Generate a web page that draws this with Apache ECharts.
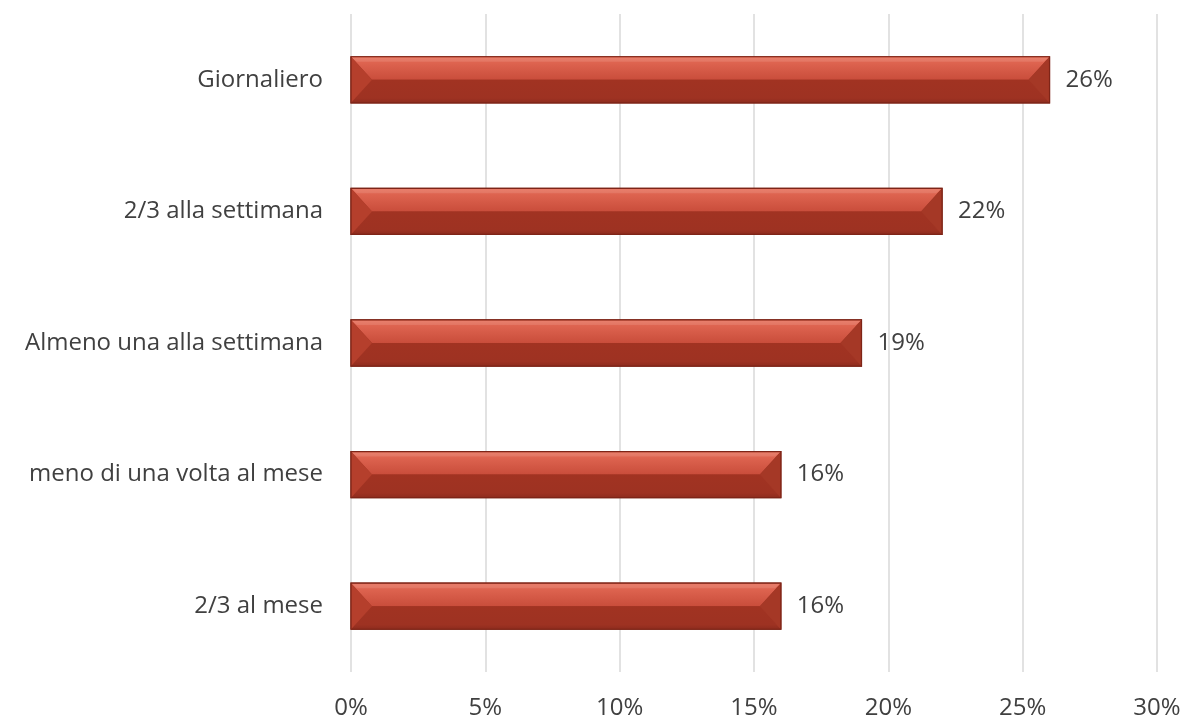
<!DOCTYPE html>
<html>
<head>
<meta charset="utf-8">
<script src="https://cdn.jsdelivr.net/npm/echarts@6/dist/echarts.min.js"></script>
<style>
  html, body { margin: 0; padding: 0; background: #fff; }
  #chart { width: 1187px; height: 720px; }
</style>
</head>
<body>
<div id="chart"></div>
<script>
// Frequency categories, top to bottom
const categories = [
  'Giornaliero',
  '2/3 alla settimana',
  'Almeno una alla settimana',
  'meno di una volta al mese',
  '2/3 al mese'
];
// Share of respondents (%)
const values = [26, 22, 19, 16, 16];
// Value-axis ticks (%)
const xTicks = [0, 5, 10, 15, 20, 25, 30];

const FONT = '"Open Sans", sans-serif';
const TEXT = '#404040';
const FS = 24;

// Draws one bevelled bar: lighter upper face, darker lower face, angled end caps
function renderBar(params, api) {
  const idx = api.value(0);
  const val = api.value(1);
  const p0 = api.coord([0, idx]);
  const p1 = api.coord([val, idx]);
  const band = api.size([0, 1])[1];
  const h = band * 0.35;
  const x0 = p0[0], x1 = p1[0];
  const yT = p0[1] - h / 2, yB = p0[1] + h / 2, yM = p0[1];
  const b = Math.min(h / 2 - 2, 21);
  const bt = 5;
  return {
    type: 'group',
    children: [
      { type: 'rect', shape: { x: x0, y: yT, width: x1 - x0, height: h },
        style: { fill: '#A23424', stroke: '#7E2417', lineWidth: 1.2 } },
      // upper face
      { type: 'polygon', shape: { points: [[x0, yT], [x1, yT], [x1 - b, yM], [x0 + b, yM]] },
        style: { fill: new echarts.graphic.LinearGradient(0, 0, 0, 1, [
          { offset: 0, color: '#E8735E' },
          { offset: 0.25, color: '#DE6450' },
          { offset: 1, color: '#C94D3B' }
        ]) } },
      // lower face
      { type: 'polygon', shape: { points: [[x0 + b, yM], [x1 - b, yM], [x1, yB], [x0, yB]] },
        style: { fill: new echarts.graphic.LinearGradient(0, 0, 0, 1, [
          { offset: 0, color: '#A13322' },
          { offset: 0.8, color: '#9E3222' },
          { offset: 1, color: '#8E2C1E' }
        ]) } },
      // left cap
      { type: 'polygon', shape: { points: [[x0, yT], [x0 + b, yM], [x0, yB]] },
        style: { fill: '#B53F2C' } },
      // right cap
      { type: 'polygon', shape: { points: [[x1, yT], [x1, yB], [x1 - b, yM]] },
        style: { fill: '#A53826' } },
      // top highlight strip
      { type: 'polygon', shape: { points: [[x0 + 1, yT + 1], [x1 - 1, yT + 1], [x1 - 1 - bt, yT + bt], [x0 + 1 + bt, yT + bt]] },
        style: { fill: 'rgba(255,255,255,0.10)' } },
      // outline
      { type: 'rect', shape: { x: x0, y: yT, width: x1 - x0, height: h },
        style: { fill: 'none', stroke: '#7E2417', lineWidth: 1.2 } },
      // value label
      { type: 'text', x: x1 + 16, y: yM,
        style: { text: val + '%', fill: TEXT, font: FS + 'px ' + FONT,
                 verticalAlign: 'middle', align: 'left' } }
    ]
  };
}

const chart = echarts.init(document.getElementById('chart'), null, { renderer: 'canvas' });
chart.setOption({
  animation: false,
  backgroundColor: '#ffffff',
  grid: { left: 351, right: 30, top: 14, bottom: 48, containLabel: false },
  xAxis: {
    type: 'value',
    min: xTicks[0],
    max: xTicks[xTicks.length - 1],
    interval: xTicks[1] - xTicks[0],
    axisLine: { show: false },
    axisTick: { show: false },
    splitLine: { show: true, lineStyle: { color: '#D9D9D9', width: 1.5 } },
    axisLabel: { formatter: '{value}%', color: TEXT, fontSize: FS, fontFamily: FONT, margin: 24 }
  },
  yAxis: {
    type: 'category',
    data: categories,
    inverse: true,
    axisLine: { show: false },
    axisTick: { show: false },
    splitLine: { show: false },
    axisLabel: { color: TEXT, fontSize: FS, fontFamily: FONT, margin: 28 }
  },
  series: [{
    type: 'custom',
    renderItem: renderBar,
    encode: { x: 1, y: 0 },
    data: values.map((v, i) => [i, v])
  }]
});
</script>
</body>
</html>
